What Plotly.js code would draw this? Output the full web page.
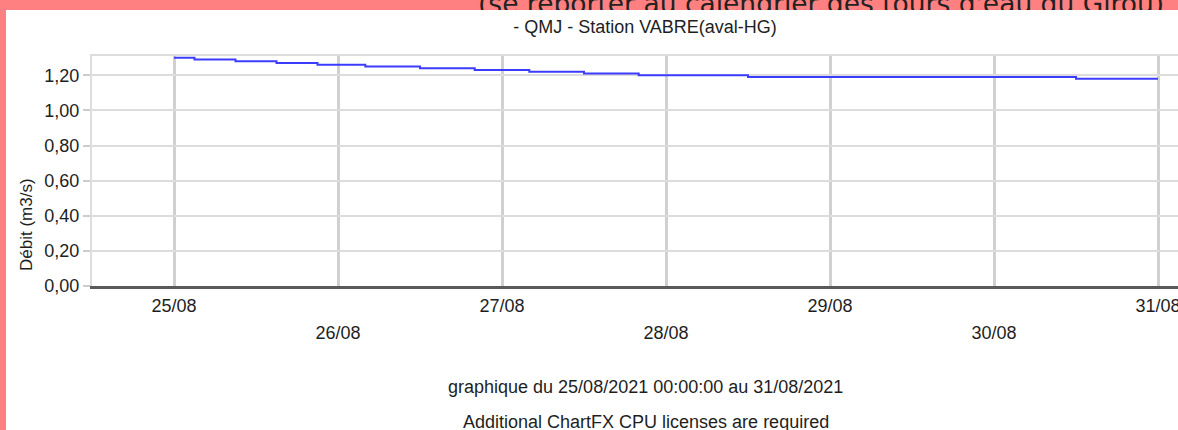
<!DOCTYPE html>
<html>
<head>
<meta charset="utf-8">
<script src="https://cdn.plot.ly/plotly-3.0.1.min.js"></script>
<style>
  html, body { margin: 0; padding: 0; width: 1178px; height: 430px; overflow: hidden; background: #FF8080; position: relative; }
  #hdrclip { position: absolute; left: 0; top: 0; width: 1178px; height: 10px; overflow: hidden; z-index: 1; }
  #header { position: absolute; left: 478px; top: -9px; font-family: "DejaVu Sans", Verdana, sans-serif; font-size: 26.5px; line-height: 26.5px; color: #222; white-space: nowrap; }
  #chart { position: absolute; left: 6px; top: 10px; width: 1284px; height: 420px; z-index: 2; background: #fff; }
</style>
</head>
<body>
<div id="hdrclip"><div id="header">(se reporter au calendrier des tours d'eau du Girou)</div></div>
<div id="chart"></div>
<script>
// ---- data ----
const times = ['2021-08-25 00:00','2021-08-25 03:00','2021-08-25 09:00','2021-08-25 15:00','2021-08-25 21:00',
               '2021-08-26 04:00','2021-08-26 12:00','2021-08-26 20:00','2021-08-27 04:00','2021-08-27 12:00',
               '2021-08-27 20:00','2021-08-28 12:00','2021-08-30 12:00','2021-08-31 00:00'];
const debits = [1.30,1.29,1.28,1.27,1.26,1.25,1.24,1.23,1.22,1.21,1.20,1.19,1.18,1.18];

const dayTicks  = ['2021-08-25','2021-08-26','2021-08-27','2021-08-28','2021-08-29','2021-08-30','2021-08-31'];
const dayLabels = ['25/08','26/08','27/08','28/08','29/08','30/08','31/08'];
const debitTicks = [0, 0.2, 0.4, 0.6, 0.8, 1.0, 1.2];

const chartTitle = '- QMJ - Station VABRE(aval-HG)';
const yTitle = 'Débit (m3/s)';
const footer1 = 'graphique du 25/08/2021 00:00:00 au 31/08/2021';
const footer2 = 'Additional ChartFX CPU licenses are required';

// ---- derived ticks (two staggered rows) ----
const row1Text = dayLabels.map((t, i) => (i % 2 === 0 ? t : ''));
const row2Vals = dayTicks.filter((t, i) => i % 2 === 1);
const row2Text = dayLabels.filter((t, i) => i % 2 === 1);

const FONT = 'Liberation Sans, Arial, sans-serif';
const TXT = '#1e1e1e';
const xRange = ['2021-08-24 12:00', '2021-08-31 12:00'];

const data = [
  { type: 'scatter', mode: 'lines', x: times, y: debits, xaxis: 'x', yaxis: 'y',
    line: { shape: 'hv', color: '#3c3cff', width: 2 }, hoverinfo: 'skip', showlegend: false },
  // invisible copies so the overlaid helper axes (second label row, top frame) are built
  { type: 'scatter', mode: 'lines', x: times, y: debits, xaxis: 'x2', yaxis: 'y',
    line: { width: 0 }, opacity: 0, hoverinfo: 'skip', showlegend: false },
  { type: 'scatter', mode: 'lines', x: times, y: debits, xaxis: 'x3', yaxis: 'y',
    line: { width: 0 }, opacity: 0, hoverinfo: 'skip', showlegend: false }
];

const layout = {
  width: 1284, height: 420,
  margin: { l: 86, r: 50, t: 46, b: 144, pad: 0 },
  paper_bgcolor: '#ffffff', plot_bgcolor: '#ffffff',
  separators: ', ',
  font: { family: FONT, size: 18, color: TXT },
  showlegend: false,
  title: { text: chartTitle, font: { family: FONT, size: 18, color: TXT },
           xref: 'container', x: 639 / 1284, xanchor: 'center',
           yref: 'container', y: 1 - 17 / 420, yanchor: 'middle' },
  xaxis: {
    type: 'date', range: xRange, automargin: false,
    tickmode: 'array', tickvals: dayTicks, ticktext: row1Text,
    ticks: '', ticklabelstandoff: 2,
    showgrid: true, gridcolor: '#d0d0d0', gridwidth: 3,
    showline: true, linecolor: '#5a5a5a', linewidth: 2.5,
    zeroline: false, tickfont: { family: FONT, size: 18, color: TXT }
  },
  xaxis2: {
    type: 'date', range: xRange, overlaying: 'x', anchor: 'y', side: 'bottom', automargin: false,
    tickmode: 'array', tickvals: row2Vals, ticktext: row2Text,
    ticks: '', ticklabelstandoff: 34,
    showgrid: false, showline: false, zeroline: false,
    tickfont: { family: FONT, size: 18, color: TXT }
  },
  xaxis3: {
    type: 'date', range: xRange, overlaying: 'x', anchor: 'y', side: 'top', automargin: false,
    showticklabels: false, ticks: '', showgrid: false, zeroline: false,
    showline: true, linecolor: '#dddddd', linewidth: 2
  },
  yaxis: {
    range: [0, 1.31], automargin: false,
    tickmode: 'array', tickvals: debitTicks, tickformat: '.2f',
    ticks: 'outside', ticklen: 7, tickcolor: '#cccccc', tickwidth: 2,
    ticklabelstandoff: 0,
    showgrid: true, gridcolor: '#dcdcdc', gridwidth: 2,
    showline: true, linecolor: '#dddddd', linewidth: 2,
    zeroline: false, tickfont: { family: FONT, size: 18, color: TXT }
  },
  annotations: [
    { text: yTitle, xref: 'paper', yref: 'paper', x: (20 - 86) / 1148, y: (276 - 215) / 230,
      xanchor: 'center', yanchor: 'middle', textangle: -90, showarrow: false,
      font: { family: FONT, size: 17, color: TXT } },
    { text: footer1, xref: 'paper', yref: 'paper', x: (639.5 - 86) / 1148, y: (276 - 376.7) / 230,
      xanchor: 'center', yanchor: 'middle', showarrow: false,
      font: { family: FONT, size: 18, color: TXT } },
    { text: footer2, xref: 'paper', yref: 'paper', x: (639.5 - 86) / 1148, y: (276 - 411.7) / 230,
      xanchor: 'center', yanchor: 'middle', showarrow: false,
      font: { family: FONT, size: 18, color: TXT } }
  ]
};

Plotly.newPlot('chart', data, layout, { displayModeBar: false, staticPlot: true });
</script>
</body>
</html>
